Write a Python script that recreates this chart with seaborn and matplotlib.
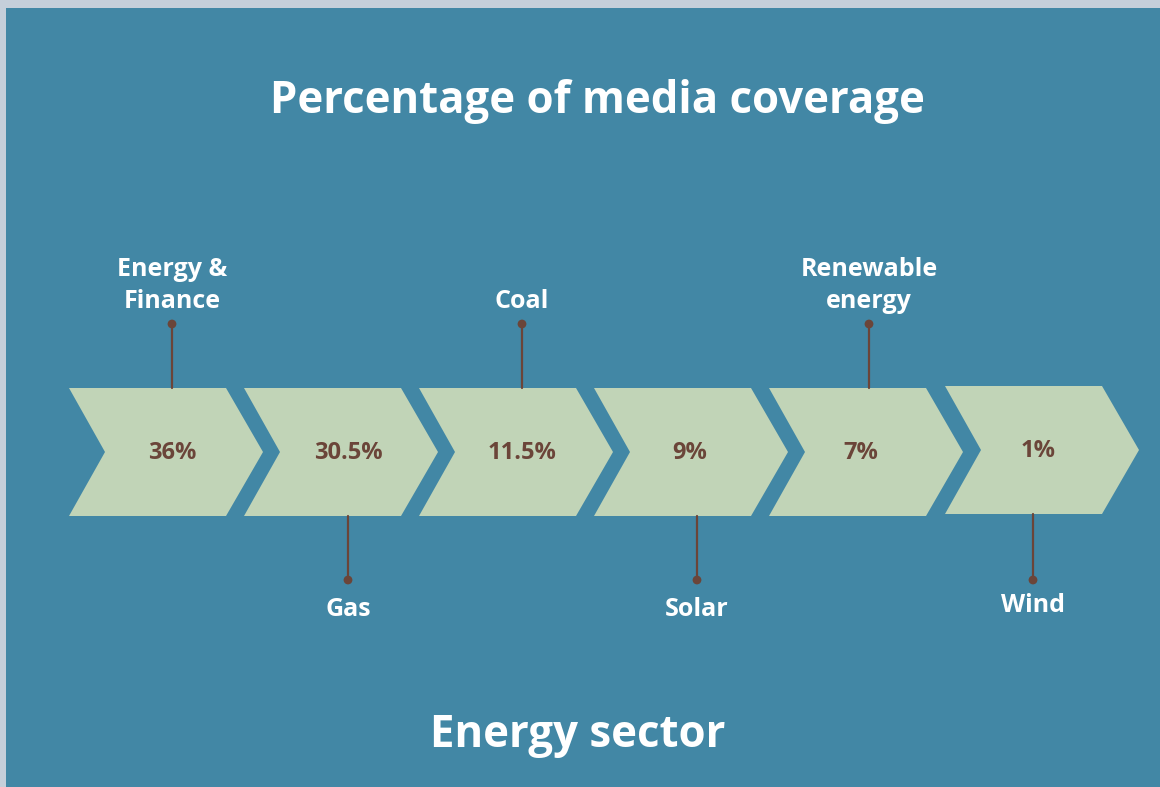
import matplotlib
matplotlib.use("Agg")
import matplotlib.pyplot as plt
from matplotlib.patches import Polygon, Rectangle
import seaborn as sns
import pandas as pd

# ---- data ----
categories = ["Energy &\nFinance", "Gas", "Coal", "Solar", "Renewable\nenergy", "Wind"]
values = [36, 30.5, 11.5, 9, 7, 1]
value_labels = ["36%", "30.5%", "11.5%", "9%", "7%", "1%"]
label_side = ["top", "bottom", "top", "bottom", "top", "bottom"]
title = "Percentage of media coverage"
xlabel = "Energy sector"

# ---- style ----
BG = "#4287A5"
BORDER = "#C5CFDA"
CHEV = "#C1D4B7"
BROWN = "#6B4539"
FONT = ["Open Sans", "DejaVu Sans"]

sns.set_theme(style="white")
plt.rcParams["font.family"] = FONT

W, H = 1160, 787
fig = plt.figure(figsize=(W / 100, H / 100), dpi=100)
fig.patch.set_facecolor(BORDER)
ax = fig.add_axes([0, 0, 1, 1])

# chevron geometry (layout)
x_start, step = 69, 175
y_top, y_bot = 388, 516
y_mid = (y_top + y_bot) / 2
body, tip, notch = 157, 194, 36
text_off = [103, 104, 103, 96, 92, 93]
conn_off = [103, 104, 103, 103, 100, 88]

df = pd.DataFrame({"cat": categories, "val": values, "lab": value_labels, "side": label_side})
df["left"] = [x_start + i * step + (1 if i == 5 else 0) for i in range(len(df))]
df["tx"] = df["left"] + text_off
df["cx"] = df["left"] + conn_off
df["dot_y"] = [324 if s == "top" else 580 for s in df["side"]]

sns.scatterplot(data=df, x="cx", y="dot_y", ax=ax, color=BROWN, s=40,
                edgecolor="none", zorder=5, legend=False)
ax.set_xlim(0, W)
ax.set_ylim(H, 0)
ax.axis("off")
ax.add_patch(Rectangle((6, 8), W, H, facecolor=BG, edgecolor="none", zorder=0))

for i, r in df.iterrows():
    L = r["left"]
    dy = -2 if i == 5 else 0
    poly = Polygon([(L, y_top + dy), (L + body, y_top + dy), (L + tip, y_mid + dy),
                    (L + body, y_bot + dy), (L, y_bot + dy), (L + notch, y_mid + dy)],
                   closed=True, facecolor=CHEV, edgecolor="none", zorder=2)
    ax.add_patch(poly)
    ax.text(r["tx"], y_mid + dy + 1, r["lab"], ha="center", va="center", fontsize=17,
            fontweight="bold", color=BROWN, zorder=4)
    if r["side"] == "top":
        ax.plot([r["cx"], r["cx"]], [y_top + dy, r["dot_y"]], color=BROWN, lw=1.6, zorder=3)
        ax.text(r["cx"], r["dot_y"] - 10, r["cat"], ha="center", va="bottom", fontsize=18,
                fontweight="bold", color="white", linespacing=1.35, zorder=4)
    else:
        ax.plot([r["cx"], r["cx"]], [y_bot + dy, r["dot_y"]], color=BROWN, lw=1.6, zorder=3)
        ax.text(r["cx"], r["dot_y"] + 17 + dy * 2, r["cat"], ha="center", va="top", fontsize=18,
                fontweight="bold", color="white", linespacing=1.35, zorder=4)

ax.text(597, 102, title, ha="center", va="center", fontsize=31.5, fontweight="bold", color="white")
ax.text(578, 735, xlabel, ha="center", va="center", fontsize=31.5, fontweight="bold", color="white")

fig.savefig("out.png", dpi=100, facecolor=fig.get_facecolor())
